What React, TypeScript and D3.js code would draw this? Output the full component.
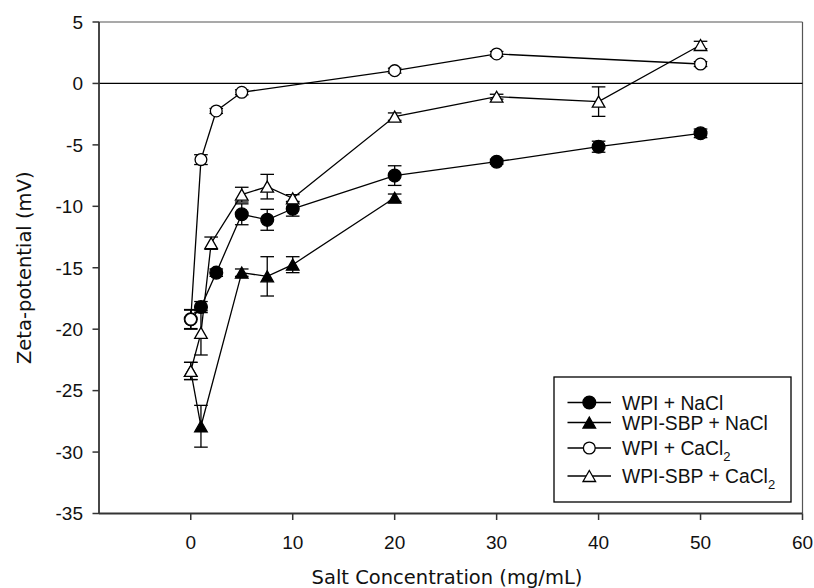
import React from "react";
import * as d3 from "d3";

// Salt concentration (mg/mL) and zeta-potential (mV) with standard deviations
const wpiNaClX = [0, 1, 2.5, 5, 7.5, 10, 20, 30, 40, 50];
const wpiNaClY = [-19.2, -18.2, -15.4, -10.65, -11.1, -10.2, -7.5, -6.37, -5.15, -4.06];
const wpiNaClErr = [0.8, 0.45, 0.3, 0.85, 0.85, 0.6, 0.8, 0.2, 0.45, 0.35];

const sbpNaClX = [0, 1, 5, 7.5, 10, 20];
const sbpNaClY = [-23.4, -27.9, -15.4, -15.7, -14.75, -9.3];
const sbpNaClErr = [0.7, 1.7, 0.3, 1.6, 0.65, 0.3];

const wpiCaClX = [0, 1, 2.5, 5, 20, 30, 50];
const wpiCaClY = [-19.2, -6.2, -2.24, -0.72, 1.04, 2.4, 1.58];
const wpiCaClErr = [0.75, 0.4, 0.2, 0.2, 0.2, 0.2, 0.2];

const sbpCaClX = [0, 1, 2, 5, 7.5, 10, 20, 30, 40, 50];
const sbpCaClY = [-23.4, -20.3, -13.0, -9.05, -8.4, -9.35, -2.7, -1.08, -1.48, 3.13];
const sbpCaClErr = [0.7, 1.8, 0.5, 0.6, 1.0, 0.3, 0.3, 0.2, 1.2, 0.3];

const xTicks = [0, 10, 20, 30, 40, 50, 60];
const yTicks = [5, 0, -5, -10, -15, -20, -25, -30, -35];

const legendNames = ["WPI + NaCl", "WPI-SBP + NaCl", "WPI + CaCl", "WPI-SBP + CaCl"];

type Shape = "circle" | "triangle";
interface Series {
  name: string;
  xs: number[];
  ys: number[];
  err: number[];
  shape: Shape;
  filled: boolean;
  sub: boolean;
}

const series: Series[] = [
  { name: legendNames[0], xs: wpiNaClX, ys: wpiNaClY, err: wpiNaClErr, shape: "circle", filled: true, sub: false },
  { name: legendNames[1], xs: sbpNaClX, ys: sbpNaClY, err: sbpNaClErr, shape: "triangle", filled: true, sub: false },
  { name: legendNames[2], xs: wpiCaClX, ys: wpiCaClY, err: wpiCaClErr, shape: "circle", filled: false, sub: true },
  { name: legendNames[3], xs: sbpCaClX, ys: sbpCaClY, err: sbpCaClErr, shape: "triangle", filled: false, sub: true },
];

const W = 814;
const H = 588;
const left = 99;
const right = 802.5;
const top = 22;
const bottom = 513.5;

const x = d3.scaleLinear().domain([-9, 60]).range([left, right]);
const y = d3.scaleLinear().domain([-35, 5]).range([bottom, top]);

const line = d3.line<[number, number]>().x((d) => x(d[0])).y((d) => y(d[1]));

const tickFont = "'Liberation Sans', Arial, sans-serif";
const titleFont = "'Comic Sans MS', 'DejaVu Sans', sans-serif";

function Marker({ cx, cy, shape, filled }: { cx: number; cy: number; shape: Shape; filled: boolean }) {
  const fill = filled ? "#000" : "#fff";
  if (shape === "circle") {
    return <circle cx={cx} cy={cy} r={filled ? 6.4 : 5.9} fill={fill} stroke="#000" strokeWidth={1.3} />;
  }
  const h = 11;
  const hw = 6.3;
  const pts = `${cx},${cy - h / 2} ${cx + hw},${cy + h / 2} ${cx - hw},${cy + h / 2}`;
  return <polygon points={pts} fill={fill} stroke="#000" strokeWidth={1.3} strokeLinejoin="miter" />;
}

export default function App() {
  const legX = 554;
  const legY = 377;
  const legRows = [402.5, 422.5, 448, 476];

  return (
    <svg width={W} height={H} style={{ position: "absolute", left: 0, top: 0, background: "#fff" }}>
      {/* frame: top and right borders */}
      <line x1={left} x2={right} y1={top} y2={top} stroke="#555" strokeWidth={1.2} />
      <line x1={right} x2={right} y1={top} y2={bottom} stroke="#555" strokeWidth={1.2} />

      {/* zero reference line */}
      <line x1={left} x2={right} y1={y(0)} y2={y(0)} stroke="#000" strokeWidth={1.2} />

      {/* series: error bars, connecting lines and symbols */}
      {series.map((s, si) => {
        const pts: [number, number][] = s.xs.map((v, i) => [v, s.ys[i]]);
        return (
          <g key={si}>
            {pts.map((p, i) => {
              const cx = x(p[0]);
              const y1 = y(p[1] + s.err[i]);
              const y2 = y(p[1] - s.err[i]);
              return (
                <g key={i} stroke="#000" strokeWidth={1.3}>
                  <line x1={cx} x2={cx} y1={y1} y2={y2} />
                  <line x1={cx - 6.8} x2={cx + 6.8} y1={y1} y2={y1} />
                  <line x1={cx - 6.8} x2={cx + 6.8} y1={y2} y2={y2} />
                </g>
              );
            })}
            <path d={line(pts) ?? ""} fill="none" stroke="#000" strokeWidth={1.3} />
            {pts.map((p, i) => (
              <Marker key={i} cx={x(p[0])} cy={y(p[1])} shape={s.shape} filled={s.filled} />
            ))}
          </g>
        );
      })}

      {/* left axis */}
      <line x1={left} x2={left} y1={top} y2={bottom} stroke="#333" strokeWidth={1.8} />
      {yTicks.map((t) => (
        <g key={t}>
          <line x1={left - 6.5} x2={left} y1={y(t)} y2={y(t)} stroke="#333" strokeWidth={1.5} />
          <text x={83} y={y(t) + 6.8} textAnchor="end" fontFamily={tickFont} fontSize={19} fill="#111">
            {t}
          </text>
        </g>
      ))}

      {/* bottom axis */}
      <line x1={left} x2={right} y1={bottom} y2={bottom} stroke="#333" strokeWidth={1.8} />
      {xTicks.map((t) => (
        <g key={t}>
          <line x1={x(t)} x2={x(t)} y1={bottom} y2={bottom + 6.5} stroke="#333" strokeWidth={1.5} />
          <text x={x(t)} y={548.5} textAnchor="middle" fontFamily={tickFont} fontSize={19} fill="#111">
            {t}
          </text>
        </g>
      ))}

      {/* axis titles */}
      <text x={447} y={584} textAnchor="middle" fontFamily={titleFont} fontSize={19.5} fill="#111">
        Salt Concentration (mg/mL)
      </text>
      <text
        transform={`translate(31, ${(top + bottom) / 2}) rotate(-90)`}
        textAnchor="middle"
        fontFamily={titleFont}
        fontSize={19.5}
        fill="#111"
      >
        Zeta-potential (mV)
      </text>

      {/* legend */}
      <rect x={legX} y={legY} width={791 - legX} height={502 - legY} fill="#fff" stroke="#000" strokeWidth={1.3} />
      {series.map((s, i) => {
        const ly = legRows[i];
        return (
          <g key={i}>
            <line x1={567.5} x2={611} y1={ly} y2={ly} stroke="#000" strokeWidth={1.3} />
            <Marker cx={589.3} cy={ly} shape={s.shape} filled={s.filled} />
            <text x={622} y={ly + 7} fontFamily={tickFont} fontSize={19.3} fill="#111">
              {s.name}
              {s.sub ? (
                <tspan fontSize={13} dy={6}>
                  2
                </tspan>
              ) : null}
            </text>
          </g>
        );
      })}
    </svg>
  );
}
